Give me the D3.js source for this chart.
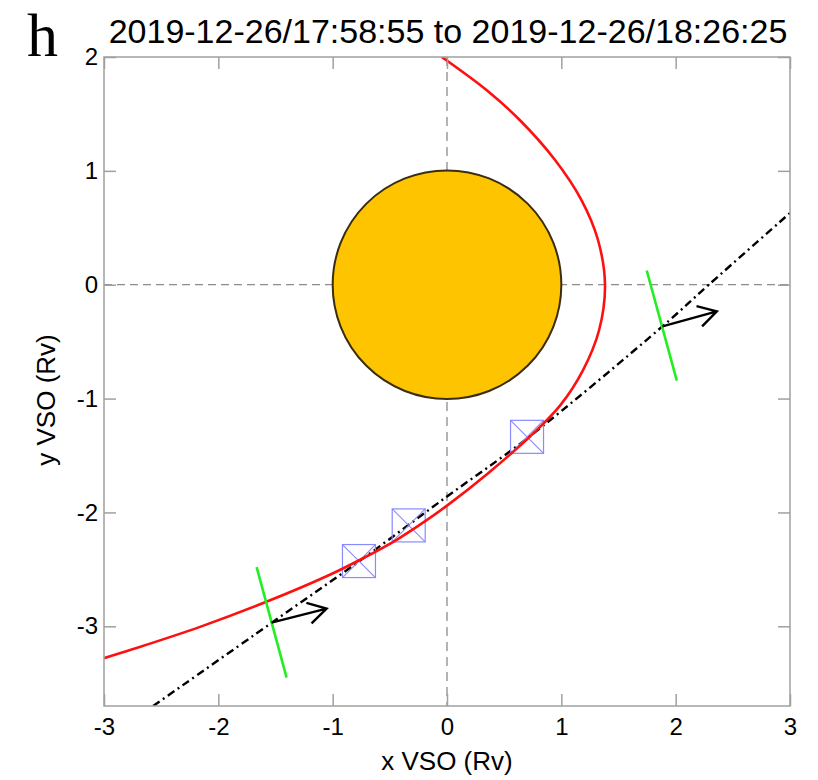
<!DOCTYPE html>
<html>
<head>
<meta charset="utf-8">
<script src="https://cdn.jsdelivr.net/npm/d3@7/dist/d3.min.js"></script>
<style>
  html, body { margin: 0; padding: 0; background: #fff; }
  svg { display: block; }
</style>
</head>
<body>
<svg id="chart" width="818" height="780"></svg>
<script>
// ---------------- data ----------------
const panelLabel = "h";
const titleText = "2019-12-26/17:58:55 to 2019-12-26/18:26:25";
const xLabel = "x VSO (Rv)";
const yLabel = "y VSO (Rv)";
const xDomain = [-3, 3];
const yDomain = [-3.7, 2];
const xTicks = [-3, -2, -1, 0, 1, 2, 3];
const yTicks = [-3, -2, -1, 0, 1, 2];

// Venus (centre, radius in Rv)
const planet = { x: 0, y: 0, r: 1 };

// bow shock (red), top to bottom
const bowShockX = [-0.046, 0.345, 0.636, 0.945, 1.175, 1.32, 1.382, 1.33, 1.19, 0.99, 0.73, 0.36, 0.0, -0.21, -0.44, -0.73, -1.02, -1.58, -2.16, -2.745, -3.0];
const bowShockY = [2.0, 1.71, 1.447, 1.096, 0.746, 0.395, 0.0, -0.40, -0.75, -1.06, -1.33, -1.655, -1.94, -2.09, -2.24, -2.40, -2.545, -2.785, -3.005, -3.20, -3.28];

// spacecraft trajectory (dash-dot)
const trajX = [-2.57, -1.535, -0.77, 0.0, 0.70, 1.884, 2.29, 3.0];
const trajY = [-3.70, -2.97, -2.43, -1.86, -1.35, -0.366, 0.0, 0.63];

// boundary-crossing markers (boxes)
const boxX = [-0.770, -0.335, 0.700];
const boxY = [-2.427, -2.114, -1.336];

// green boundary normal segments [x1, y1, x2, y2]
const greenSegs = [
  [-1.665, -2.48, -1.403, -3.45],
  [1.747, 0.125, 2.01, -0.842]
];
// black normal arrows [x start, y start, x tip, y tip]
const arrows = [
  [-1.535, -2.968, -1.053, -2.845],
  [1.884, -0.366, 2.36, -0.234]
];

// ---------------- layout ----------------
const L = 104, R = 790, T = 57, B = 706;
const svg = d3.select("#chart");
const x = d3.scaleLinear().domain(xDomain).range([L, R]);
const y = d3.scaleLinear().domain(yDomain).range([B, T]);

const frameColor = "#a0a0a0";
const fontSans = "'Liberation Sans', Arial, Helvetica, sans-serif";

svg.append("defs").append("clipPath").attr("id", "plotclip")
  .append("rect").attr("x", L).attr("y", T).attr("width", R - L).attr("height", B - T);

const plot = svg.append("g").attr("clip-path", "url(#plotclip)");

// dashed zero lines
plot.append("line")
  .attr("x1", x(0)).attr("x2", x(0)).attr("y1", T).attr("y2", B)
  .attr("stroke", "#8c8c8c").attr("stroke-width", 1.3).attr("stroke-dasharray", "9,6");
plot.append("line")
  .attr("x1", L).attr("x2", R).attr("y1", y(0)).attr("y2", y(0))
  .attr("stroke", "#8c8c8c").attr("stroke-width", 1.3).attr("stroke-dasharray", "8,5");

// planet
plot.append("circle")
  .attr("cx", x(planet.x)).attr("cy", y(planet.y))
  .attr("r", x(planet.r) - x(0))
  .attr("fill", "#FFC400").attr("stroke", "#3a2c10").attr("stroke-width", 2);

// trajectory
const trajData = trajX.map((v, i) => [v, trajY[i]]);
plot.append("path")
  .datum(trajData)
  .attr("d", d3.line().x(d => x(d[0])).y(d => y(d[1])).curve(d3.curveCatmullRom.alpha(0.5)))
  .attr("fill", "none").attr("stroke", "#000").attr("stroke-width", 2.4)
  .attr("stroke-dasharray", "8,4,2,4");

// boxes
const boxSize = 33;
const boxColor = "#8a8aff";
const boxes = plot.selectAll("g.box").data(boxX.map((v, i) => [v, boxY[i]])).join("g").attr("class", "box");
boxes.append("rect")
  .attr("x", d => x(d[0]) - boxSize / 2).attr("y", d => y(d[1]) - boxSize / 2)
  .attr("width", boxSize).attr("height", boxSize)
  .attr("fill", "none").attr("stroke", boxColor).attr("stroke-width", 1.2);
boxes.append("line")
  .attr("x1", d => x(d[0]) - boxSize / 2).attr("y1", d => y(d[1]) - boxSize / 2)
  .attr("x2", d => x(d[0]) + boxSize / 2).attr("y2", d => y(d[1]) + boxSize / 2)
  .attr("stroke", boxColor).attr("stroke-width", 1.1);
boxes.append("line")
  .attr("x1", d => x(d[0]) + boxSize / 2).attr("y1", d => y(d[1]) - boxSize / 2)
  .attr("x2", d => x(d[0]) - boxSize / 2).attr("y2", d => y(d[1]) + boxSize / 2)
  .attr("stroke", boxColor).attr("stroke-width", 1.1);

// bow shock
const bsData = bowShockX.map((v, i) => [v, bowShockY[i]]);
plot.append("path")
  .datum(bsData)
  .attr("d", d3.line().x(d => x(d[0])).y(d => y(d[1])).curve(d3.curveCatmullRom.alpha(0.5)))
  .attr("fill", "none").attr("stroke", "#ff1010").attr("stroke-width", 2.6);

// green normals
plot.selectAll("line.green").data(greenSegs).join("line").attr("class", "green")
  .attr("x1", d => x(d[0])).attr("y1", d => y(d[1]))
  .attr("x2", d => x(d[2])).attr("y2", d => y(d[3]))
  .attr("stroke", "#22ee22").attr("stroke-width", 2.6);

// arrows
const headLen = 21, headAng = 30 * Math.PI / 180;
arrows.forEach(a => {
  const x0 = x(a[0]), y0 = y(a[1]), x1 = x(a[2]), y1 = y(a[3]);
  const ang = Math.atan2(y1 - y0, x1 - x0) + Math.PI;
  const p1 = [x1 + headLen * Math.cos(ang + headAng), y1 + headLen * Math.sin(ang + headAng)];
  const p2 = [x1 + headLen * Math.cos(ang - headAng), y1 + headLen * Math.sin(ang - headAng)];
  plot.append("path")
    .attr("d", `M${x0},${y0}L${x1},${y1}M${p1[0]},${p1[1]}L${x1},${y1}L${p2[0]},${p2[1]}`)
    .attr("fill", "none").attr("stroke", "#000").attr("stroke-width", 2.4)
    .attr("stroke-linejoin", "miter").attr("stroke-linecap", "butt");
});

// ---------------- axes ----------------
function styleAxis(g, showLabels) {
  g.select(".domain").remove();
  g.selectAll(".tick line").attr("stroke", frameColor).attr("stroke-width", 1.5);
  if (!showLabels) g.selectAll(".tick text").remove();
  else g.selectAll(".tick text").attr("fill", "#000").attr("font-family", fontSans).attr("font-size", 24);
}
const fmt = d => String(d);
svg.append("g").attr("transform", `translate(0,${B})`)
  .call(d3.axisBottom(x).tickValues(xTicks).tickSize(-12).tickPadding(12).tickFormat(fmt))
  .call(g => styleAxis(g, true));
svg.append("g").attr("transform", `translate(0,${T})`)
  .call(d3.axisTop(x).tickValues(xTicks).tickSize(-12))
  .call(g => styleAxis(g, false));
svg.append("g").attr("transform", `translate(${L},0)`)
  .call(d3.axisLeft(y).tickValues(yTicks).tickSize(-12).tickPadding(6).tickFormat(fmt))
  .call(g => styleAxis(g, true));
svg.append("g").attr("transform", `translate(${R},0)`)
  .call(d3.axisRight(y).tickValues(yTicks).tickSize(-12))
  .call(g => styleAxis(g, false));

// frame
svg.append("rect").attr("x", L).attr("y", T).attr("width", R - L).attr("height", B - T)
  .attr("fill", "none").attr("stroke", frameColor).attr("stroke-width", 1.5);

// titles
svg.append("text").attr("x", (L + R) / 2).attr("y", 770)
  .attr("text-anchor", "middle").attr("font-family", fontSans).attr("font-size", 26)
  .text(xLabel);
svg.append("text").attr("transform", `translate(55,400) rotate(-90)`)
  .attr("text-anchor", "middle").attr("font-family", fontSans).attr("font-size", 26)
  .text(yLabel);
svg.append("text").attr("x", (L + R) / 2 + 1).attr("y", 43)
  .attr("text-anchor", "middle").attr("font-family", fontSans).attr("font-size", 34)
  .text(titleText);
svg.append("text").attr("x", 27).attr("y", 56)
  .attr("font-family", "'Liberation Serif', 'Times New Roman', serif").attr("font-size", 62)
  .text(panelLabel);
</script>
</body>
</html>
